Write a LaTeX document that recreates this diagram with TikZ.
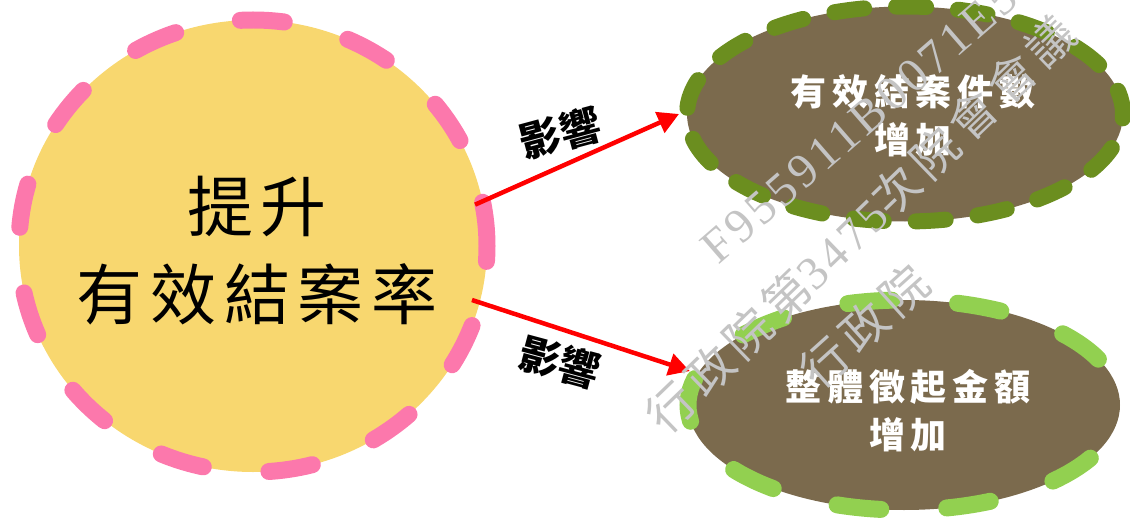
\documentclass[tikz,border=0pt]{standalone}
\usepackage{fontspec}
\newfontfamily\cjk{Noto Sans CJK TC}
\newfontfamily\wmlat{Liberation Serif}
\usetikzlibrary{shapes.geometric,arrows.meta}
\definecolor{sunyellow}{HTML}{F8D76F}
\definecolor{rosepink}{HTML}{FC78AC}
\definecolor{mudbrown}{HTML}{7B6A4D}
\definecolor{darkgrn}{HTML}{6B8E1F}
\definecolor{lightgrn}{HTML}{92D050}
\definecolor{wmgray}{HTML}{C4C4C4}
\begin{document}
\begin{tikzpicture}[x=1pt,y=-1pt,
  bigcircle/.style={ellipse, draw=rosepink, fill=sunyellow, line width=17pt,
    line cap=round, dash pattern=on 44pt off 66pt,
    minimum width=468pt, minimum height=452pt, inner sep=0pt, outer sep=0pt},
  resultoval/.style={ellipse, fill=mudbrown, line cap=round, inner sep=0pt},
  impact/.style={draw=red, line width=4.5pt, -{Triangle[length=21pt,width=22pt]}},
  impactlabel/.style={font=\cjk\bfseries\fontsize{41}{41}\selectfont, text=black, inner sep=0pt},
  ovaltext/.style={font=\cjk\bfseries\fontsize{36}{48}\selectfont\addfontfeature{LetterSpace=16},
    text=white, align=center, inner sep=0pt},
  watermark/.style={text=wmgray, anchor=west, inner sep=0pt}
]
\useasboundingbox (0,0) rectangle (1130,532);

\node[bigcircle] (c) at (253,246) {};
\node[resultoval, draw=darkgrn, line width=16pt, dash pattern=on 30pt off 32pt, dash phase=6pt,
  minimum width=436pt, minimum height=215pt] (e1) at (905,114) {};
\node[resultoval, draw=lightgrn, line width=17pt, dash pattern=on 44pt off 66pt, dash phase=58pt,
  minimum width=432pt, minimum height=210pt] (e2) at (904,405) {};

\node[font=\cjk\fontsize{66}{88}\selectfont\addfontfeature{LetterSpace=12}, align=center,
  inner sep=0pt] (ct) at (257,251) {提升\\有效結案率};
\node[ovaltext] (e1t) at (913,116) {有效結案件數\\增加};
\node[ovaltext] (e2t) at (908,411) {整體徵起金額\\增加};

\draw[impact, shorten <=-8pt] (c.11) -- (e1.west);
\draw[impact, shorten <=-8pt] (c.-14) -- (e2.171);

\node[impactlabel, rotate=15] (l1) at (560,133) {影響};
\node[impactlabel, rotate=-15] (l2) at (560,362) {影響};

\begin{scope}
\clip (0,0) rectangle (1130,532);
\node[watermark, rotate=41, font=\wmlat\fontsize{48}{48}\selectfont\addfontfeature{LetterSpace=8}]
  (w1) at (708,254) {F955911B0071E5};
\node[watermark, rotate=44, font=\cjk\fontsize{47}{47}\selectfont\addfontfeature{LetterSpace=14}]
  (w2) at (654,424) {行政院第{\wmlat\addfontfeature{LetterSpace=8}3475}次院會會議};
\node[watermark, rotate=42, font=\cjk\fontsize{47}{47}\selectfont\addfontfeature{LetterSpace=14}]
  (w3) at (807,378) {行政院};
\end{scope}
\end{tikzpicture}
\end{document}
